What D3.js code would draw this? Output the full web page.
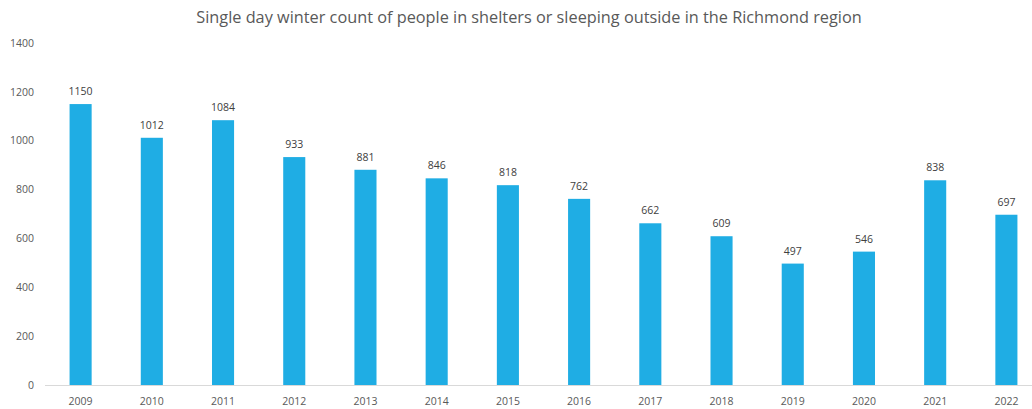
<!DOCTYPE html>
<html>
<head>
<meta charset="utf-8">
<script src="https://cdn.jsdelivr.net/npm/d3@7"></script>
<style>
  body { margin: 0; background: #fff; }
  svg { display: block; }
  text { font-family: "Open Sans", "Liberation Sans", sans-serif; }
</style>
</head>
<body>
<script>
// data
var years = ["2009","2010","2011","2012","2013","2014","2015","2016","2017","2018","2019","2020","2021","2022"];
var counts = [1150, 1012, 1084, 933, 881, 846, 818, 762, 662, 609, 497, 546, 838, 697];
var yTicks = [0, 200, 400, 600, 800, 1000, 1200, 1400];
var title = "Single day winter count of people in shelters or sleeping outside in the Richmond region";

var w = 1032, h = 409;
var svg = d3.select("body").append("svg")
  .attr("width", w).attr("height", h);

var x = d3.scaleBand()
  .domain(years)
  .range([45, 1042])
  .paddingInner(0.69)
  .paddingOuter(0.345);

var y = d3.scaleLinear()
  .domain([0, 1400])
  .range([385, 43]);

// title
svg.append("text")
  .attr("x", 529).attr("y", 23)
  .attr("text-anchor", "middle")
  .attr("font-size", 16.3)
  .attr("fill", "#595959")
  .text(title);

// y tick labels (no gridlines)
svg.selectAll(".ylab").data(yTicks).enter().append("text")
  .attr("class", "ylab")
  .attr("x", 34)
  .attr("y", function(d){ return y(d); })
  .attr("dy", "0.35em")
  .attr("text-anchor", "end")
  .attr("font-size", 10.5)
  .attr("fill", "#595959")
  .text(function(d){ return d; });

// bars
svg.selectAll(".bar").data(counts).enter().append("rect")
  .attr("class", "bar")
  .attr("x", function(d, i){ return x(years[i]); })
  .attr("y", function(d){ return y(d); })
  .attr("width", x.bandwidth())
  .attr("height", function(d){ return y(0) - y(d); })
  .attr("fill", "#1fade4");

// value labels
svg.selectAll(".val").data(counts).enter().append("text")
  .attr("class", "val")
  .attr("x", function(d, i){ return x(years[i]) + x.bandwidth()/2; })
  .attr("y", function(d){ return y(d) - 9; })
  .attr("text-anchor", "middle")
  .attr("font-size", 10.5)
  .attr("fill", "#404040")
  .text(function(d){ return d; });

// baseline
svg.append("line")
  .attr("x1", 45).attr("x2", w)
  .attr("y1", y(0) + 0.5).attr("y2", y(0) + 0.5)
  .style("stroke", "#d9d9d9")
  .style("stroke-width", 1);

// x labels
svg.selectAll(".xlab").data(years).enter().append("text")
  .attr("class", "xlab")
  .attr("x", function(d){ return x(d) + x.bandwidth()/2; })
  .attr("y", 405)
  .attr("text-anchor", "middle")
  .attr("font-size", 10.5)
  .attr("fill", "#595959")
  .text(function(d){ return d; });
</script>
</body>
</html>
